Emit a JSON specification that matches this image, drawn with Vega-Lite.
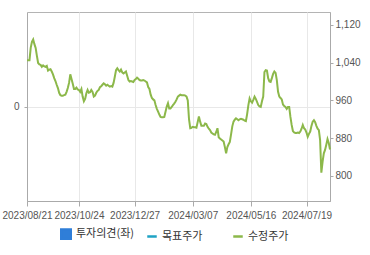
{
  "$schema": "https://vega.github.io/schema/vega-lite/v6.json",
  "width": 303,
  "height": 189,
  "autosize": {"type": "none"},
  "padding": {"left": 27, "top": 12, "right": 40, "bottom": 54},
  "background": "white",
  "config": {
    "view": {"stroke": "#b4b4b4", "strokeWidth": 1},
    "axis": {"labelFont": "Liberation Sans", "labelFontSize": 10, "labelColor": "#555555", "domainColor": "#aaaaaa", "tickColor": "#aaaaaa", "gridColor": "#e8e8e8", "title": null}
  },
  "layer": [
    {
      "data": {"values": [{}]},
      "mark": {"type": "rule", "opacity": 0},
      "encoding": {
        "y": {"datum": 0, "type": "quantitative", "scale": {"domain": [-1, 1], "nice": false},
          "axis": {"orient": "left", "values": [0], "grid": true, "title": null, "tickSize": 3, "labelPadding": 5}}
      }
    },
    {
      "data": {"values": [
        {"i":0,"p":1045},{"i":1,"p":1045},{"i":2,"p":1045},{"i":3,"p":1071},{"i":4,"p":1084},{"i":5,"p":1089},{"i":6,"p":1079},{"i":7,"p":1071},{"i":8,"p":1054},{"i":9,"p":1039},
        {"i":10,"p":1036},{"i":11,"p":1035},{"i":12,"p":1031},{"i":13,"p":1034},{"i":14,"p":1032},{"i":15,"p":1031},{"i":16,"p":1033},{"i":17,"p":1023},{"i":18,"p":1025},{"i":19,"p":1026},
        {"i":20,"p":1021},{"i":21,"p":1015},{"i":22,"p":1007},{"i":23,"p":1001},{"i":24,"p":993},{"i":25,"p":986},{"i":26,"p":976},{"i":27,"p":971},{"i":28,"p":970},{"i":29,"p":970},
        {"i":30,"p":971},{"i":31,"p":972},{"i":32,"p":978},{"i":33,"p":986},{"i":34,"p":997},{"i":35,"p":1015},{"i":36,"p":1005},{"i":37,"p":995},{"i":38,"p":984},{"i":39,"p":984},
        {"i":40,"p":987},{"i":41,"p":983},{"i":42,"p":982},{"i":43,"p":978},{"i":44,"p":984},{"i":45,"p":968},{"i":46,"p":958},{"i":47,"p":963},{"i":48,"p":975},{"i":49,"p":982},
        {"i":50,"p":976},{"i":51,"p":977},{"i":52,"p":982},{"i":53,"p":978},{"i":54,"p":968},{"i":55,"p":970},{"i":56,"p":976},{"i":57,"p":980},{"i":58,"p":982},{"i":59,"p":988},
        {"i":60,"p":990},{"i":61,"p":993},{"i":62,"p":996},{"i":63,"p":994},{"i":64,"p":991},{"i":65,"p":993},{"i":66,"p":991},{"i":67,"p":989},{"i":68,"p":990},{"i":69,"p":989},
        {"i":70,"p":997},{"i":71,"p":1010},{"i":72,"p":1024},{"i":73,"p":1028},{"i":74,"p":1024},{"i":75,"p":1021},{"i":76,"p":1025},{"i":77,"p":1019},{"i":78,"p":1017},{"i":79,"p":1019},
        {"i":80,"p":1021},{"i":81,"p":1012},{"i":82,"p":1003},{"i":83,"p":1000},{"i":84,"p":1001},{"i":85,"p":1000},{"i":86,"p":999},{"i":87,"p":1003},{"i":88,"p":1005},{"i":89,"p":1008},
        {"i":90,"p":1006},{"i":91,"p":1003},{"i":92,"p":1002},{"i":93,"p":1002},{"i":94,"p":1003},{"i":95,"p":1002},{"i":96,"p":1000},{"i":97,"p":998},{"i":98,"p":988},{"i":99,"p":984},
        {"i":100,"p":972},{"i":101,"p":965},{"i":102,"p":962},{"i":103,"p":960},{"i":104,"p":950},{"i":105,"p":942},{"i":106,"p":936},{"i":107,"p":930},{"i":108,"p":925},{"i":109,"p":924},
        {"i":110,"p":924},{"i":111,"p":925},{"i":112,"p":936},{"i":113,"p":947},{"i":114,"p":954},{"i":115,"p":943},{"i":116,"p":943},{"i":117,"p":946},{"i":118,"p":950},{"i":119,"p":953},
        {"i":120,"p":957},{"i":121,"p":962},{"i":122,"p":968},{"i":123,"p":970},{"i":124,"p":972},{"i":125,"p":971},{"i":126,"p":971},{"i":127,"p":971},{"i":128,"p":970},{"i":129,"p":968},
        {"i":130,"p":960},{"i":131,"p":920},{"i":132,"p":901},{"i":133,"p":902},{"i":134,"p":904},{"i":135,"p":903},{"i":136,"p":903},{"i":137,"p":902},{"i":138,"p":914},{"i":139,"p":926},
        {"i":140,"p":915},{"i":141,"p":906},{"i":142,"p":906},{"i":143,"p":906},{"i":144,"p":911},{"i":145,"p":910},{"i":146,"p":904},{"i":147,"p":900},{"i":148,"p":897},{"i":149,"p":892},
        {"i":150,"p":890},{"i":151,"p":888},{"i":152,"p":887},{"i":153,"p":893},{"i":154,"p":901},{"i":155,"p":882},{"i":156,"p":879},{"i":157,"p":877},{"i":158,"p":875},{"i":159,"p":873},
        {"i":160,"p":861},{"i":161,"p":848},{"i":162,"p":861},{"i":163,"p":867},{"i":164,"p":872},{"i":165,"p":888},{"i":166,"p":905},{"i":167,"p":915},{"i":168,"p":919},{"i":169,"p":922},
        {"i":170,"p":920},{"i":171,"p":918},{"i":172,"p":920},{"i":173,"p":921},{"i":174,"p":920},{"i":175,"p":919},{"i":176,"p":917},{"i":177,"p":916},{"i":178,"p":931},{"i":179,"p":950},
        {"i":180,"p":964},{"i":181,"p":958},{"i":182,"p":955},{"i":183,"p":961},{"i":184,"p":968},{"i":185,"p":963},{"i":186,"p":957},{"i":187,"p":950},{"i":188,"p":947},{"i":189,"p":946},
        {"i":190,"p":958},{"i":191,"p":968},{"i":192,"p":1020},{"i":193,"p":1024},{"i":194,"p":1023},{"i":195,"p":1007},{"i":196,"p":1000},{"i":197,"p":999},{"i":198,"p":1007},{"i":199,"p":1016},
        {"i":200,"p":1021},{"i":201,"p":1018},{"i":202,"p":1003},{"i":203,"p":978},{"i":204,"p":968},{"i":205,"p":965},{"i":206,"p":962},{"i":207,"p":951},{"i":208,"p":948},{"i":209,"p":946},
        {"i":210,"p":942},{"i":211,"p":946},{"i":212,"p":946},{"i":213,"p":925},{"i":214,"p":908},{"i":215,"p":895},{"i":216,"p":892},{"i":217,"p":891},{"i":218,"p":891},{"i":219,"p":892},
        {"i":220,"p":891},{"i":221,"p":894},{"i":222,"p":900},{"i":223,"p":908},{"i":224,"p":901},{"i":225,"p":898},{"i":226,"p":892},{"i":227,"p":883},{"i":228,"p":889},{"i":229,"p":894},
        {"i":230,"p":906},{"i":231,"p":915},{"i":232,"p":918},{"i":233,"p":914},{"i":234,"p":906},{"i":235,"p":900},{"i":236,"p":897},{"i":237,"p":876},{"i":238,"p":807},{"i":239,"p":830},
        {"i":240,"p":848},{"i":241,"p":855},{"i":242,"p":866},{"i":243,"p":878},{"i":244,"p":870},{"i":245,"p":856}
      ]},
      "mark": {"type": "line", "strokeWidth": 2},
      "encoding": {
        "x": {"field": "i", "type": "quantitative", "scale": {"domain": [0, 245], "nice": false, "zero": false},
          "axis": {"values": [0, 42, 87, 134, 181, 226], "grid": true, "labelFlush": false, "labelOverlap": false, "tickSize": 5, "labelPadding": 4,
            "labelExpr": "datum.value == 0 ? '2023/08/21' : datum.value == 42 ? '2023/10/24' : datum.value == 87 ? '2023/12/27' : datum.value == 134 ? '2024/03/07' : datum.value == 181 ? '2024/05/16' : '2024/07/19'"}},
        "y": {"field": "p", "type": "quantitative", "scale": {"domain": [747, 1147], "nice": false, "zero": false},
          "axis": {"orient": "right", "values": [800, 880, 960, 1040, 1120], "format": ",d", "grid": false, "tickSize": 3, "labelPadding": 2}},
        "color": {"datum": "수정주가", "type": "nominal",
          "scale": {"domain": ["투자의견(좌)", "목표주가", "수정주가"], "range": ["#2f7ed8", "#1fa3c4", "#8cb84a"]},
          "legend": {"orient": "none", "legendX": 33, "legendY": 216, "direction": "horizontal", "title": null, "gridAlign": "all",
            "symbolType": {"expr": "datum.value === '투자의견(좌)' ? 'square' : 'stroke'"},
            "symbolFillColor": {"expr": "datum.value === '투자의견(좌)' ? '#2f7ed8' : 'transparent'"},
            "symbolSize": 90, "symbolStrokeWidth": 2.5, "labelFont": "Noto Sans CJK KR", "labelFontSize": 11, "labelColor": "#333333", "labelOffset": 4, "columnPadding": 7}}
      }
    }
  ],
  "resolve": {"scale": {"y": "independent"}}
}
